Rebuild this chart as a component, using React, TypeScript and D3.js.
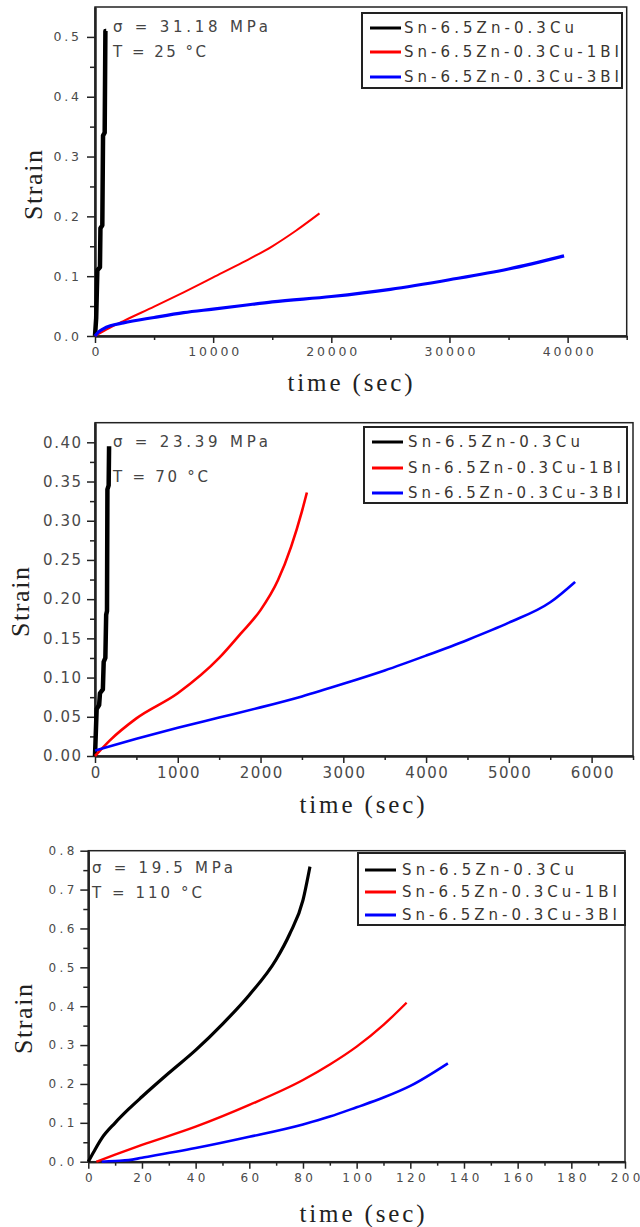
import React, { useEffect, useRef } from 'react';
import * as d3 from 'd3';

type Pt = [number, number];

const legendLabels = ['Sn-6.5Zn-0.3Cu', 'Sn-6.5Zn-0.3Cu-1BI', 'Sn-6.5Zn-0.3Cu-3BI'];
const seriesColors = ['#000000', '#ff0000', '#0000ff'];

const stressLabels = ['σ = 31.18 MPa', 'σ = 23.39 MPa', 'σ = 19.5 MPa'];
const tempLabels = ['T = 25 °C', 'T = 70 °C', 'T = 110 °C'];

// Panel 1 : 25 °C (time in sec, strain)
const p1Base: Pt[] = [[0, 0], [100, 0.03], [200, 0.11], [420, 0.115], [460, 0.18], [620, 0.185], [680, 0.335], [820, 0.34], [880, 0.51], [950, 0.51]];
const p1Bi1: Pt[] = [[0, 0], [1000, 0.011], [2400, 0.025], [5000, 0.049], [7500, 0.073], [10000, 0.098], [12500, 0.123], [15000, 0.15], [17000, 0.176], [19000, 0.205]];
const p1Bi3: Pt[] = [[0, 0], [300, 0.007], [700, 0.012], [1300, 0.017], [2400, 0.022], [5000, 0.031], [7500, 0.039], [10000, 0.045], [12500, 0.051], [15000, 0.057], [20000, 0.066], [25000, 0.078], [30000, 0.094], [35000, 0.112], [39700, 0.134]];
const p1XTicks = [0, 10000, 20000, 30000, 40000];
const p1XMinor = [5000, 15000, 25000, 35000, 45000];
const p1YTicks = [0, 0.1, 0.2, 0.3, 0.4, 0.5];
const p1YMinor = [0.05, 0.15, 0.25, 0.35, 0.45];

// Panel 2 : 70 °C
const p2Base: Pt[] = [[0, 0], [20, 0.06], [50, 0.065], [60, 0.08], [95, 0.085], [105, 0.12], [125, 0.125], [135, 0.18], [145, 0.185], [150, 0.34], [165, 0.345], [170, 0.395]];
const p2Bi1: Pt[] = [[0, 0], [180, 0.02], [500, 0.048], [1000, 0.08], [1500, 0.125], [1760, 0.156], [2000, 0.186], [2210, 0.224], [2370, 0.267], [2500, 0.312], [2560, 0.336]];
const p2Bi3: Pt[] = [[0, 0.007], [500, 0.022], [1000, 0.036], [1500, 0.049], [2000, 0.062], [2500, 0.076], [3000, 0.092], [3500, 0.109], [4000, 0.128], [4500, 0.148], [5000, 0.17], [5500, 0.196], [5800, 0.222]];
const p2XTicks = [0, 1000, 2000, 3000, 4000, 5000, 6000];
const p2XMinor = [500, 1500, 2500, 3500, 4500, 5500, 6500];
const p2YTicks = [0, 0.05, 0.1, 0.15, 0.2, 0.25, 0.3, 0.35, 0.4];
const p2YMinor = [0.025, 0.075, 0.125, 0.175, 0.225, 0.275, 0.325, 0.375];

// Panel 3 : 110 °C
const p3Base: Pt[] = [[0, 0], [2, 0.025], [5, 0.06], [10, 0.1], [15, 0.135], [20, 0.167], [30, 0.228], [40, 0.287], [50, 0.354], [60, 0.429], [70, 0.52], [75, 0.585], [80, 0.673], [82.6, 0.759]];
const p3Bi1: Pt[] = [[3, 0], [10, 0.018], [20, 0.043], [40, 0.09], [60, 0.146], [80, 0.21], [90, 0.25], [100, 0.296], [110, 0.352], [118.6, 0.409]];
const p3Bi3: Pt[] = [[5, 0], [10, 0.002], [15, 0.004], [20, 0.01], [40, 0.035], [60, 0.064], [80, 0.096], [90, 0.116], [100, 0.14], [110, 0.165], [120, 0.195], [134, 0.253]];
const p3XTicks = [0, 20, 40, 60, 80, 100, 120, 140, 160, 180, 200];
const p3XMinor = [10, 30, 50, 70, 90, 110, 130, 150, 170, 190];
const p3YTicks = [0, 0.1, 0.2, 0.3, 0.4, 0.5, 0.6, 0.7, 0.8];
const p3YMinor = [0.05, 0.15, 0.25, 0.35, 0.45, 0.55, 0.65, 0.75];

const panels = [
  {
    left: 95, right: 626.7, top: 7, bottom: 336, xMax: 45000, yMax: 0.55,
    series: [p1Base, p1Bi1, p1Bi3], widths: [4.5, 2, 3.2], smooth: [false, true, true],
    xTicks: p1XTicks, xMinor: p1XMinor, yTicks: p1YTicks, yMinor: p1YMinor, yFmt: '.1f',
    font: 12.5, spacing: 2.8, xPad: 4, yPad: 8,
    legend: { x: 362, y: 13, w: 260, h: 75, rows: [33, 57, 82], lx: 370, tx: 404, lens: [170, 215, 215] },
    note: { x: 113, y1: 32, y2: 57, w1: 155, w2: 93 },
    xTitle: { x: 350, y: 391 }, yTitle: { x: 33, y: 185 },
  },
  {
    left: 95, right: 633, top: 422.7, bottom: 756, xMax: 6500, yMax: 0.425,
    series: [p2Base, p2Bi1, p2Bi3], widths: [4.5, 2.6, 2.6], smooth: [false, true, true],
    xTicks: p2XTicks, xMinor: p2XMinor, yTicks: p2YTicks, yMinor: p2YMinor, yFmt: '.2f',
    font: 15, spacing: 1.5, xPad: 4, yPad: 6,
    legend: { x: 364, y: 427, w: 263, h: 76, rows: [447, 473, 498], lx: 372, tx: 408, lens: [172, 213, 213] },
    note: { x: 113, y1: 447, y2: 482, w1: 155, w2: 95 },
    xTitle: { x: 362, y: 813 }, yTitle: { x: 20, y: 602 },
  },
  {
    left: 88.3, right: 625, top: 850.7, bottom: 1161.7, xMax: 200, yMax: 0.8,
    series: [p3Base, p3Bi1, p3Bi3], widths: [3.2, 2.4, 2.6], smooth: [true, true, true],
    xTicks: p3XTicks, xMinor: p3XMinor, yTicks: p3YTicks, yMinor: p3YMinor, yFmt: '.1f',
    font: 12, spacing: 3.4, xPad: 5, yPad: 6,
    legend: { x: 358, y: 853, w: 267, h: 72, rows: [875, 897, 920], lx: 365, tx: 402, lens: [172, 215, 215] },
    note: { x: 92, y1: 873, y2: 898, w1: 141, w2: 110 },
    xTitle: { x: 362, y: 1222 }, yTitle: { x: 23, y: 1019 },
  },
];

const App = () => {
  const svgRef = useRef<SVGSVGElement>(null);

  useEffect(() => {
    const svg = d3
      .select(svgRef.current)
      .attr('width', 640)
      .attr('height', 1227)
      .style('background', '#fff')
      .html('');

    const sans = '"DejaVu Sans", Verdana, sans-serif';
    const serif = '"Liberation Serif", "Times New Roman", serif';

    panels.forEach((p, i) => {
      const x = d3.scaleLinear().domain([0, p.xMax]).range([p.left, p.right]);
      const y = d3.scaleLinear().domain([0, p.yMax]).range([p.bottom, p.top]);
      const g = svg.append('g');

      // frame
      g.append('rect')
        .attr('x', p.left)
        .attr('y', p.top)
        .attr('width', p.right - p.left)
        .attr('height', p.bottom - p.top)
        .attr('fill', 'none')
        .attr('stroke', '#222')
        .attr('stroke-width', 1.5);

      // minor ticks
      g.append('g')
        .attr('transform', `translate(0,${p.bottom})`)
        .call(d3.axisBottom(x).tickValues(p.xMinor).tickSize(4).tickSizeOuter(0).tickFormat(() => ''));
      g.append('g')
        .attr('transform', `translate(${p.left},0)`)
        .call(d3.axisLeft(y).tickValues(p.yMinor).tickSize(5).tickSizeOuter(0).tickFormat(() => ''));

      // major ticks + labels
      const xa = g.append('g')
        .attr('transform', `translate(0,${p.bottom})`)
        .call(d3.axisBottom(x).tickValues(p.xTicks).tickSize(7).tickPadding(p.xPad).tickSizeOuter(0).tickFormat(d3.format('d')));
      const ya = g.append('g')
        .attr('transform', `translate(${p.left},0)`)
        .call(d3.axisLeft(y).tickValues(p.yTicks).tickSize(8).tickPadding(p.yPad).tickSizeOuter(0).tickFormat(d3.format(p.yFmt)));

      [xa, ya].forEach(a => {
        a.selectAll('text')
          .attr('font-family', sans)
          .attr('font-size', p.font)
          .attr('letter-spacing', p.spacing)
          .attr('fill', '#4a4a4a');
      });
      xa.selectAll('text').attr('dx', p.spacing / 2);
      ya.selectAll('text').attr('dx', p.spacing);

      g.selectAll('.domain').attr('stroke', '#222').attr('stroke-width', 2);
      g.selectAll('.tick line').attr('stroke', '#222').attr('stroke-width', 1.5);

      // curves
      p.series.forEach((s, k) => {
        const line = d3.line<Pt>()
          .x(d => x(d[0]))
          .y(d => y(d[1]))
          .curve(p.smooth[k] ? d3.curveMonotoneX : d3.curveLinear);
        g.append('path')
          .datum(s)
          .attr('fill', 'none')
          .attr('stroke', seriesColors[k])
          .attr('stroke-width', p.widths[k])
          .attr('stroke-linejoin', 'round')
          .attr('d', line);
      });

      // annotation
      g.append('text')
        .attr('x', p.note.x).attr('y', p.note.y1)
        .attr('font-family', sans).attr('font-size', 15)
        .attr('textLength', p.note.w1).attr('lengthAdjust', 'spacing')
        .attr('fill', '#444')
        .text(stressLabels[i]);
      g.append('text')
        .attr('x', p.note.x).attr('y', p.note.y2)
        .attr('font-family', sans).attr('font-size', 15)
        .attr('textLength', p.note.w2).attr('lengthAdjust', 'spacing')
        .attr('fill', '#444')
        .text(tempLabels[i]);

      // legend
      const L = p.legend;
      g.append('rect')
        .attr('x', L.x).attr('y', L.y).attr('width', L.w).attr('height', L.h)
        .attr('fill', '#fff').attr('stroke', '#222').attr('stroke-width', 2);
      legendLabels.forEach((lab, k) => {
        g.append('line')
          .attr('x1', L.lx).attr('x2', L.lx + 31)
          .attr('y1', L.rows[k] - 5).attr('y2', L.rows[k] - 5)
          .attr('stroke', seriesColors[k]).attr('stroke-width', 3);
        g.append('text')
          .attr('x', L.tx).attr('y', L.rows[k])
          .attr('font-family', sans).attr('font-size', 15)
          .attr('textLength', L.lens[k]).attr('lengthAdjust', 'spacing')
          .attr('fill', '#3a3530')
          .text(lab);
      });

      // axis titles
      g.append('text')
        .attr('x', p.xTitle.x).attr('y', p.xTitle.y)
        .attr('text-anchor', 'middle')
        .attr('font-family', serif)
        .attr('font-size', 25)
        .attr('textLength', 125).attr('lengthAdjust', 'spacing')
        .attr('fill', '#222')
        .text('time (sec)');
      g.append('text')
        .attr('transform', `translate(${p.yTitle.x},${p.yTitle.y}) rotate(-90)`)
        .attr('text-anchor', 'middle')
        .attr('dy', '0.35em')
        .attr('font-family', serif)
        .attr('font-size', 26)
        .attr('textLength', 70).attr('lengthAdjust', 'spacing')
        .attr('fill', '#222')
        .text('Strain');
    });
  }, []);

  return <svg ref={svgRef} style={{ position: 'absolute', left: 0, top: 0 }}></svg>;
};

export default App;
